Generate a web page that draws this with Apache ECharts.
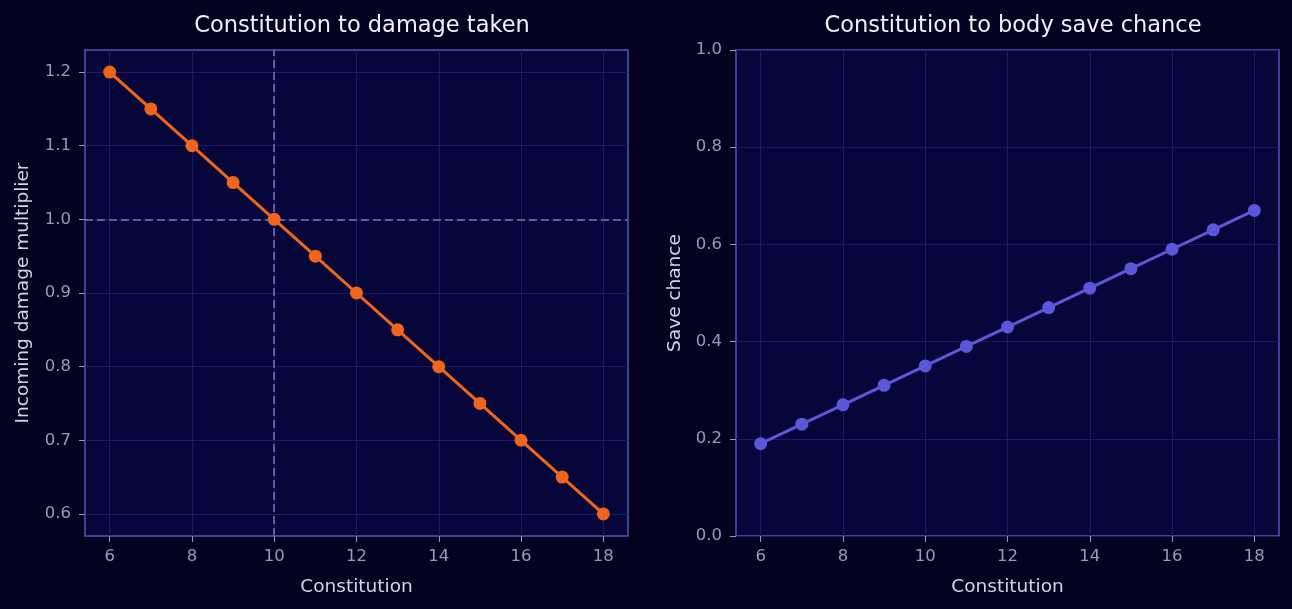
<!DOCTYPE html>
<html>
<head>
<meta charset="utf-8">
<script src="https://cdn.jsdelivr.net/npm/echarts@6/dist/echarts.min.js"></script>
<style>
html, body { margin: 0; padding: 0; background: #04031f; }
#main { width: 1292px; height: 609px; }
</style>
</head>
<body>
<div id="main"></div>
<script>
// constitution values, shared by both panels
var constitution = [6, 7, 8, 9, 10, 11, 12, 13, 14, 15, 16, 17, 18];
var damageMult = [1.2, 1.15, 1.1, 1.05, 1.0, 0.95, 0.9, 0.85, 0.8, 0.75, 0.7, 0.65, 0.6];
var saveChance = [0.19, 0.23, 0.27, 0.31, 0.35, 0.39, 0.43, 0.47, 0.51, 0.55, 0.59, 0.63, 0.67];
var xTicks = [6, 8, 10, 12, 14, 16, 18];
var leftYTicks = [0.6, 0.7, 0.8, 0.9, 1.0, 1.1, 1.2];

var font = 'DejaVu Sans';
var tickColor = '#9a98c0';
var gridColor = '#1b1a62';
var borderColor = '#5353c2';
var nameColor = '#d4d4e6';

function pairs(xs, ys) {
	var out = [];
	for (let i = 0; i < xs.length; i++) out.push([xs[i], ys[i]]);
	return out;
}

function xAxisFor(gi) {
	return {
		type: 'value', gridIndex: gi, min: 5.4, max: 18.6,
		name: 'Constitution', nameLocation: 'middle', nameGap: 42,
		nameTextStyle: { color: nameColor, fontSize: 18.5, fontFamily: font },
		axisLine: { show: false },
		axisTick: { show: true, length: 6, customValues: xTicks, lineStyle: { color: tickColor } },
		axisLabel: { customValues: xTicks, color: tickColor, fontSize: 16.5, fontFamily: font, margin: 12 },
		splitLine: { show: true, customValues: xTicks, lineStyle: { color: gridColor, width: 1 } }
	};
}

var mychart = echarts.init(document.getElementById('main'));
var option = {
	backgroundColor: '#04031f',
	animation: false,
	title: [
		{ text: 'Constitution to damage taken', left: 357, top: 10, textAlign: 'center',
			textStyle: { color: '#f0f0f8', fontSize: 22.5, fontWeight: 'normal', fontFamily: font } },
		{ text: 'Constitution to body save chance', left: 1008, top: 10, textAlign: 'center',
			textStyle: { color: '#f0f0f8', fontSize: 22.5, fontWeight: 'normal', fontFamily: font } }
	],
	grid: [
		{ left: 85, top: 50, width: 543, height: 486, show: true, backgroundColor: '#07063a',
			borderColor: borderColor, borderWidth: 1.5, containLabel: false },
		{ left: 736, top: 50, width: 543, height: 486, show: true, backgroundColor: '#07063a',
			borderColor: borderColor, borderWidth: 1.5, containLabel: false }
	],
	xAxis: [xAxisFor(0), xAxisFor(1)],
	yAxis: [
		{
			type: 'value', gridIndex: 0, min: 0.57, max: 1.23,
			name: 'Incoming damage multiplier', nameLocation: 'middle', nameGap: 52,
			nameTextStyle: { color: nameColor, fontSize: 18.5, fontFamily: font },
			axisLine: { show: false },
			axisTick: { show: true, length: 6, customValues: leftYTicks, lineStyle: { color: tickColor } },
			axisLabel: { customValues: leftYTicks, color: tickColor, fontSize: 16.5, fontFamily: font, margin: 14,
				formatter: function (v) { return v.toFixed(1); } },
			splitLine: { show: true, customValues: leftYTicks, lineStyle: { color: gridColor, width: 1 } }
		},
		{
			type: 'value', gridIndex: 1, min: 0, max: 1, interval: 0.2,
			name: 'Save chance', nameLocation: 'middle', nameGap: 51,
			nameTextStyle: { color: nameColor, fontSize: 18.5, fontFamily: font },
			axisLine: { show: false },
			axisTick: { show: true, length: 6, lineStyle: { color: tickColor } },
			axisLabel: { color: tickColor, fontSize: 16.5, fontFamily: font, margin: 14,
				formatter: function (v) { return v.toFixed(1); } },
			splitLine: { show: true, lineStyle: { color: gridColor, width: 1 } }
		}
	],
	series: [
		{
			type: 'line', xAxisIndex: 0, yAxisIndex: 0,
			data: pairs(constitution, damageMult),
			symbol: 'circle', symbolSize: 13,
			lineStyle: { color: '#f0651c', width: 3 },
			itemStyle: { color: '#f0651c' },
			z: 5,
			markLine: {
				silent: true, symbol: 'none', label: { show: false },
				lineStyle: { color: '#5e5ca0', type: [8, 4], width: 2 },
				data: [{ xAxis: 10 }, { yAxis: 1.0 }]
			}
		},
		{
			type: 'line', xAxisIndex: 1, yAxisIndex: 1,
			data: pairs(constitution, saveChance),
			symbol: 'circle', symbolSize: 13,
			lineStyle: { color: '#5a58d8', width: 3 },
			itemStyle: { color: '#5a58d8' },
			z: 5
		}
	]
};
mychart.setOption(option);
</script>
</body>
</html>
